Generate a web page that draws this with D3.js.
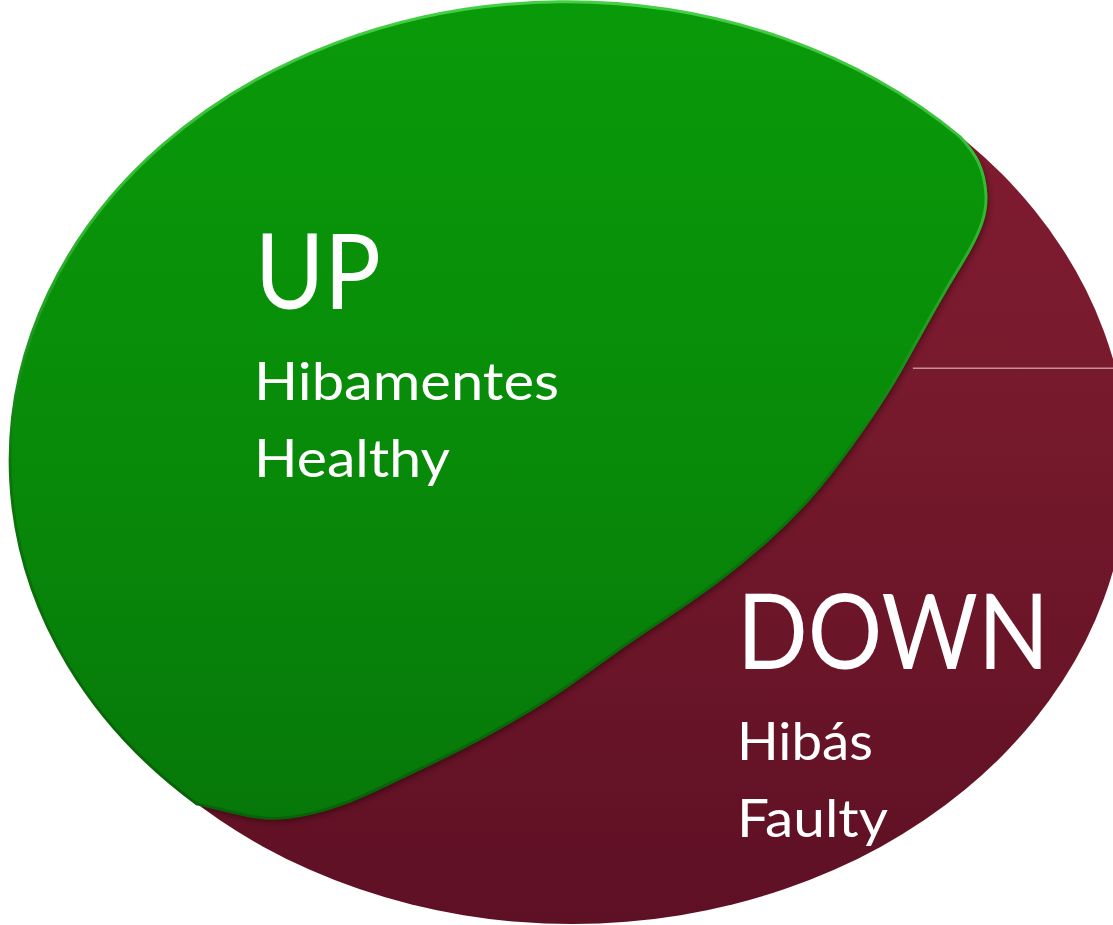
<!DOCTYPE html>
<html>
<head>
<meta charset="utf-8">
<script src="https://cdn.jsdelivr.net/npm/d3@7/dist/d3.min.js"></script>
<style>
  body { margin: 0; background: #fff; }
  svg { display: block; }
</style>
</head>
<body>
<div id="chart"></div>
<script>
// states shown in the diagram
const states = ["UP", "DOWN"];
const statesHu = ["Hibamentes", "Hibás"];
const statesEn = ["Healthy", "Faulty"];

// boundary between the UP and DOWN areas, in ellipse units
// (u: -1 left .. 1 right, v: -1 top .. 1 bottom)
const cutU = [0.698, 0.735, 0.748, 0.740, 0.716, 0.680, 0.644, 0.608, 0.570, 0.502,
              0.433, 0.351, 0.261, 0.171, 0.081, -0.009, -0.094, -0.201, -0.309,
              -0.399, -0.489, -0.552, -0.612, -0.675];
const cutV = [-0.715, -0.664, -0.584, -0.529, -0.468, -0.399, -0.322, -0.244, -0.160, -0.040,
              0.070, 0.168, 0.257, 0.331, 0.403, 0.484, 0.549, 0.621, 0.682,
              0.736, 0.767, 0.773, 0.756, 0.738];

// thin marker line on the DOWN side
const markerU = [0.613, 1.05];
const markerV = [-0.211, -0.211];

const width = 1113, height = 925;
const cx = 572, cy = 465, rx = 556, ry = 459;

const x = d3.scaleLinear().domain([-1, 1]).range([cx - rx, cx + rx]);
const y = d3.scaleLinear().domain([-1, 1]).range([cy - ry, cy + ry]);

const svg = d3.select("#chart").append("svg")
  .attr("width", width)
  .attr("height", height);

const defs = svg.append("defs");

function vGrad(id, stops) {
  const g = defs.append("linearGradient")
    .attr("id", id)
    .attr("gradientUnits", "userSpaceOnUse")
    .attr("x1", 0).attr("x2", 0)
    .attr("y1", y(-1)).attr("y2", y(1));
  stops.forEach(function (s) {
    g.append("stop").attr("offset", s[0]).attr("stop-color", s[1]);
  });
}
vGrad("redFill", [[0, "#831b32"], [0.4, "#781a2d"], [1, "#5e1024"]]);
vGrad("greenFill", [[0, "#099a09"], [0.5, "#088a09"], [1, "#06730a"]]);
vGrad("greenEdge", [[0, "#45cf45"], [0.25, "#2fb52f"], [0.5, "#0a760a"], [1, "#085c08"]]);

const blur = defs.append("filter").attr("id", "blur")
  .attr("filterUnits", "userSpaceOnUse")
  .attr("x", 0).attr("y", 0).attr("width", width).attr("height", height);
blur.append("feGaussianBlur").attr("stdDeviation", 3);

// DOWN: the whole ellipse
svg.append("ellipse")
  .attr("cx", x(0))
  .attr("cy", y(0))
  .attr("rx", x(1) - x(0))
  .attr("ry", y(1) - y(0))
  .attr("fill", "url(#redFill)");

svg.append("line")
  .attr("x1", x(markerU[0])).attr("y1", y(markerV[0]))
  .attr("x2", x(markerU[1])).attr("y2", y(markerV[1]))
  .attr("stroke", "#c98e9a")
  .attr("stroke-width", 1.5);

// UP: outer rim of the ellipse plus the cut line
const cut = d3.range(cutU.length).map(function (i) { return [cutU[i], cutV[i]]; });
const cutLine = d3.line()
  .curve(d3.curveBasis)
  .x(function (d) { return x(d[0]); })
  .y(function (d) { return y(d[1]); });

const first = cut[0], last = cut[cut.length - 1];
const upPath = "M" + x(last[0]) + "," + y(last[1]) +
  "A" + (x(1) - x(0)) + "," + (y(1) - y(0)) + " 0 1 1 " + x(first[0]) + "," + y(first[1]) +
  cutLine(cut).replace(/^M/, "L") + "Z";

// soft shadow of the UP area on the DOWN area, clipped to the ellipse
defs.append("clipPath").attr("id", "inside")
  .append("ellipse")
  .attr("cx", x(0)).attr("cy", y(0))
  .attr("rx", x(1) - x(0)).attr("ry", y(1) - y(0));

svg.append("g")
  .attr("clip-path", "url(#inside)")
  .append("path")
  .attr("d", upPath)
  .attr("transform", "translate(2,3)")
  .attr("fill", "#1a0005")
  .attr("opacity", 0.55)
  .attr("filter", "url(#blur)");

svg.append("path")
  .attr("d", upPath)
  .attr("fill", "url(#greenFill)")
  .attr("stroke", "url(#greenEdge)")
  .attr("stroke-width", 3);

// labels
const labelFont = "Lato, 'Open Sans', sans-serif";
const anchors = [[250, 309, 400, 477], [733, 669, 760, 837]];
const bigWidth = [126, 312];
const huWidth = [305, 136];
const enWidth = [196, 151];

const labels = svg.append("g").attr("fill", "#fff").style("font-family", labelFont);
states.forEach(function (s, i) {
  const a = anchors[i];
  labels.append("text")
    .attr("x", a[0] + (i === 0 ? 5 : 4)).attr("y", a[1])
    .style("font-size", "105px")
    .attr("textLength", bigWidth[i])
    .attr("lengthAdjust", "spacingAndGlyphs")
    .text(s);
  labels.append("text")
    .attr("x", a[0] + 4).attr("y", a[2])
    .style("font-size", "53px")
    .attr("textLength", huWidth[i])
    .attr("lengthAdjust", "spacingAndGlyphs")
    .text(statesHu[i]);
  labels.append("text")
    .attr("x", a[0] + 4).attr("y", a[3])
    .style("font-size", "53px")
    .attr("textLength", enWidth[i])
    .attr("lengthAdjust", "spacingAndGlyphs")
    .text(statesEn[i]);
});
</script>
</body>
</html>
